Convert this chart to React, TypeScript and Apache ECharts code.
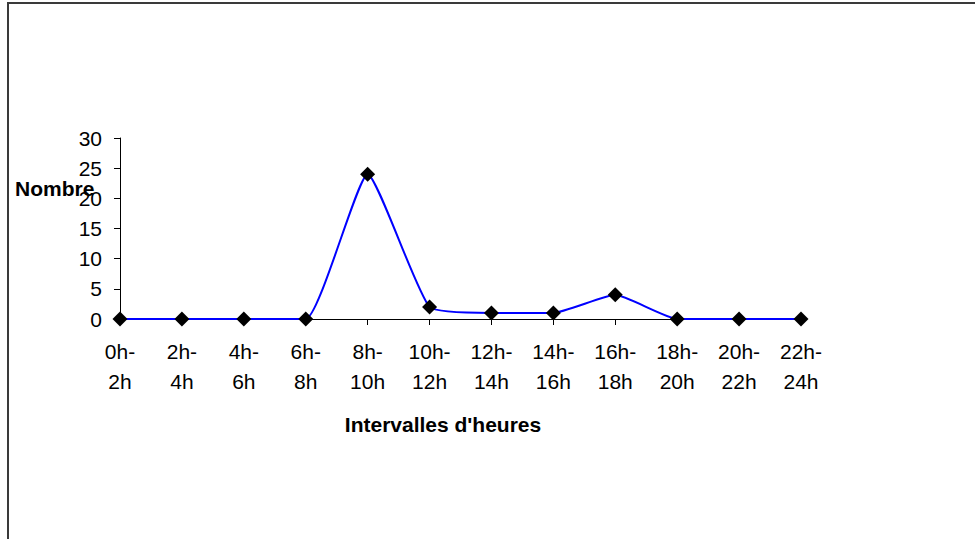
import React, { useEffect, useRef } from "react";
import * as echarts from "echarts";

const categories = ["0h-\n2h", "2h-\n4h", "4h-\n6h", "6h-\n8h", "8h-\n10h", "10h-\n12h", "12h-\n14h", "14h-\n16h", "16h-\n18h", "18h-\n20h", "20h-\n22h", "22h-\n24h"];
const counts = [0, 0, 0, 0, 24, 2, 1, 1, 4, 0, 0, 0];
const yTicks = { min: 0, max: 30, interval: 5 };
const yAxisTitle = "Nombre";
const xAxisTitle = "Intervalles d'heures";

export default function App() {
  const ref = useRef<HTMLDivElement>(null);
  useEffect(() => {
    if (!ref.current) return;
    const chart = echarts.init(ref.current, null, { renderer: "svg" });
    const font = "Liberation Sans, Arial, sans-serif";
    chart.setOption({
      animation: false,
      backgroundColor: "#ffffff",
      grid: { left: 120, right: 174, top: 138, bottom: 220, containLabel: false },
      xAxis: {
        type: "category",
        data: categories,
        boundaryGap: false,
        axisLine: { lineStyle: { color: "#000", width: 1 } },
        axisTick: { show: true, length: 6, inside: false, alignWithLabel: true, lineStyle: { color: "#000" } },
        axisLabel: { color: "#000", fontSize: 21, fontFamily: font, lineHeight: 30, margin: 17, interval: 0 },
        splitLine: { show: false },
      },
      yAxis: {
        type: "value",
        min: yTicks.min,
        max: yTicks.max,
        interval: yTicks.interval,
        axisLine: { show: true, lineStyle: { color: "#000", width: 1 } },
        axisTick: { show: true, length: 6, lineStyle: { color: "#000" } },
        axisLabel: { color: "#000", fontSize: 21, fontFamily: font, margin: 18 },
        splitLine: { show: false },
      },
      series: [
        {
          type: "line",
          data: counts,
          smooth: 0.15,
          symbol: "diamond",
          symbolSize: 15,
          itemStyle: { color: "#000" },
          lineStyle: { color: "#0000ff", width: 2 },
          z: 3,
        },
      ],
      graphic: [
        {
          type: "rect",
          shape: { x: 8, y: 3, width: 1000, height: 600 },
          style: { fill: "none", stroke: "#3a3a3a", lineWidth: 2 },
          silent: true,
        },
        {
          type: "text",
          x: 15,
          y: 188,
          style: { text: yAxisTitle, fill: "#000", font: `bold 21px ${font}`, align: "left", verticalAlign: "middle" },
          z: 10,
        },
        {
          type: "text",
          x: 443,
          y: 424,
          style: { text: xAxisTitle, fill: "#000", font: `bold 21px ${font}`, align: "center", verticalAlign: "middle" },
        },
      ],
    });
    return () => chart.dispose();
  }, []);
  return <div ref={ref} style={{ position: "absolute", left: 0, top: 0, width: 975, height: 539 }} />;
}
